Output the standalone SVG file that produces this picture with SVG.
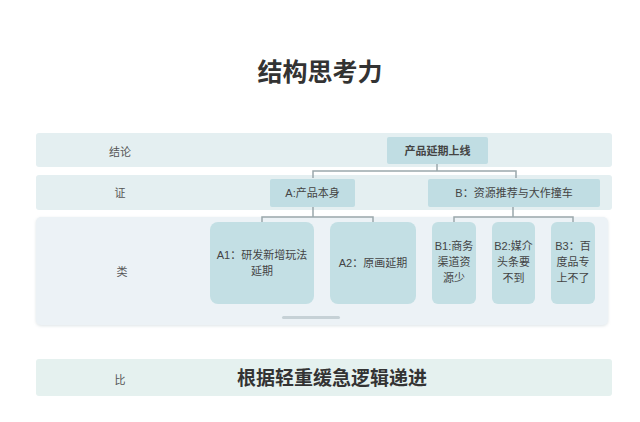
<svg xmlns="http://www.w3.org/2000/svg" width="640" height="422" viewBox="0 0 640 422">
<defs>
<style>
.band{fill:#e4eff1}
.lbl{font-family:"Liberation Sans","Noto Sans CJK SC",sans-serif;font-size:11px;fill:#555;text-anchor:middle}
.node{fill:#c0dde3}
.node3{fill:#c3dfe4}
.nt{font-family:"Liberation Sans","Noto Sans CJK SC",sans-serif;font-size:11px;fill:#444;text-anchor:middle}
.conn{fill:none;stroke:#9ba8ac;stroke-width:1.5}
</style>
<filter id="sh" x="-5%" y="-10%" width="110%" height="125%">
<feDropShadow dx="0" dy="1" stdDeviation="1.5" flood-color="#9fb0b8" flood-opacity="0.35"/>
</filter>
</defs>
<rect width="640" height="422" fill="#ffffff"/>
<text x="320" y="81" font-family="'Noto Sans CJK SC',sans-serif" font-size="25" font-weight="bold" fill="#333" text-anchor="middle">结构思考力</text>

<g id="row1">
<rect class="band" x="36" y="133" width="576" height="34" rx="3"/>
<text class="lbl" x="120" y="156">结论</text>
</g>
<g id="row2">
<rect class="band" x="36" y="175" width="576" height="35" rx="3"/>
<text class="lbl" x="120" y="197">证</text>
</g>
<g id="row3">
<rect x="36" y="217" width="572" height="108" rx="5" fill="#ecf2f6" filter="url(#sh)"/>
<text class="lbl" x="122" y="276">类</text>
<rect x="282" y="316" width="58" height="3" rx="1.5" fill="#c6d1d6"/>
</g>
<g id="row4">
<rect x="36" y="359" width="576" height="37" rx="3" fill="#e5f1ef"/>
<text class="lbl" x="120" y="384">比</text>
<text x="332" y="385" font-family="'Noto Sans CJK SC',sans-serif" font-size="19" font-weight="bold" fill="#333" text-anchor="middle">根据轻重缓急逻辑递进</text>
</g>

<g id="connectors">
<path class="conn" d="M437 164V171M313 178V171H516V178"/>
<path class="conn" d="M313 207V217M262 222V217H373V222"/>
<path class="conn" d="M513 207V217M454 222V217H573V222"/>
</g>

<g id="n0">
<rect class="node" x="387" y="137" width="101" height="27" rx="2"/>
<text class="nt" x="437.5" y="155" font-weight="bold" fill="#333">产品延期上线</text>
</g>
<g id="nA">
<rect class="node" x="270" y="179" width="85" height="28" rx="2"/>
<text class="nt" x="312.5" y="197">A:产品本身</text>
</g>
<g id="nB">
<rect class="node" x="428" y="179" width="172" height="28" rx="2"/>
<text class="nt" x="514" y="197">B：资源推荐与大作撞车</text>
</g>
<g id="nA1">
<rect class="node3" x="210" y="222" width="104" height="82" rx="8"/>
<text class="nt" x="262" y="259">A1：研发新增玩法</text>
<text class="nt" x="262" y="275">延期</text>
</g>
<g id="nA2">
<rect class="node3" x="330" y="222" width="86" height="82" rx="8"/>
<text class="nt" x="373" y="267">A2：原画延期</text>
</g>
<g id="nB1">
<rect class="node3" x="432" y="222" width="44" height="82" rx="6"/>
<text class="nt" x="454" y="250">B1:商务</text>
<text class="nt" x="454" y="266">渠道资</text>
<text class="nt" x="454" y="282">源少</text>
</g>
<g id="nB2">
<rect class="node3" x="492" y="222" width="43" height="82" rx="6"/>
<text class="nt" x="513.5" y="250">B2:媒介</text>
<text class="nt" x="513.5" y="266">头条要</text>
<text class="nt" x="513.5" y="282">不到</text>
</g>
<g id="nB3">
<rect class="node3" x="551" y="222" width="44" height="82" rx="6"/>
<text class="nt" x="573" y="250">B3：百</text>
<text class="nt" x="573" y="266">度品专</text>
<text class="nt" x="573" y="282">上不了</text>
</g>
</svg>
